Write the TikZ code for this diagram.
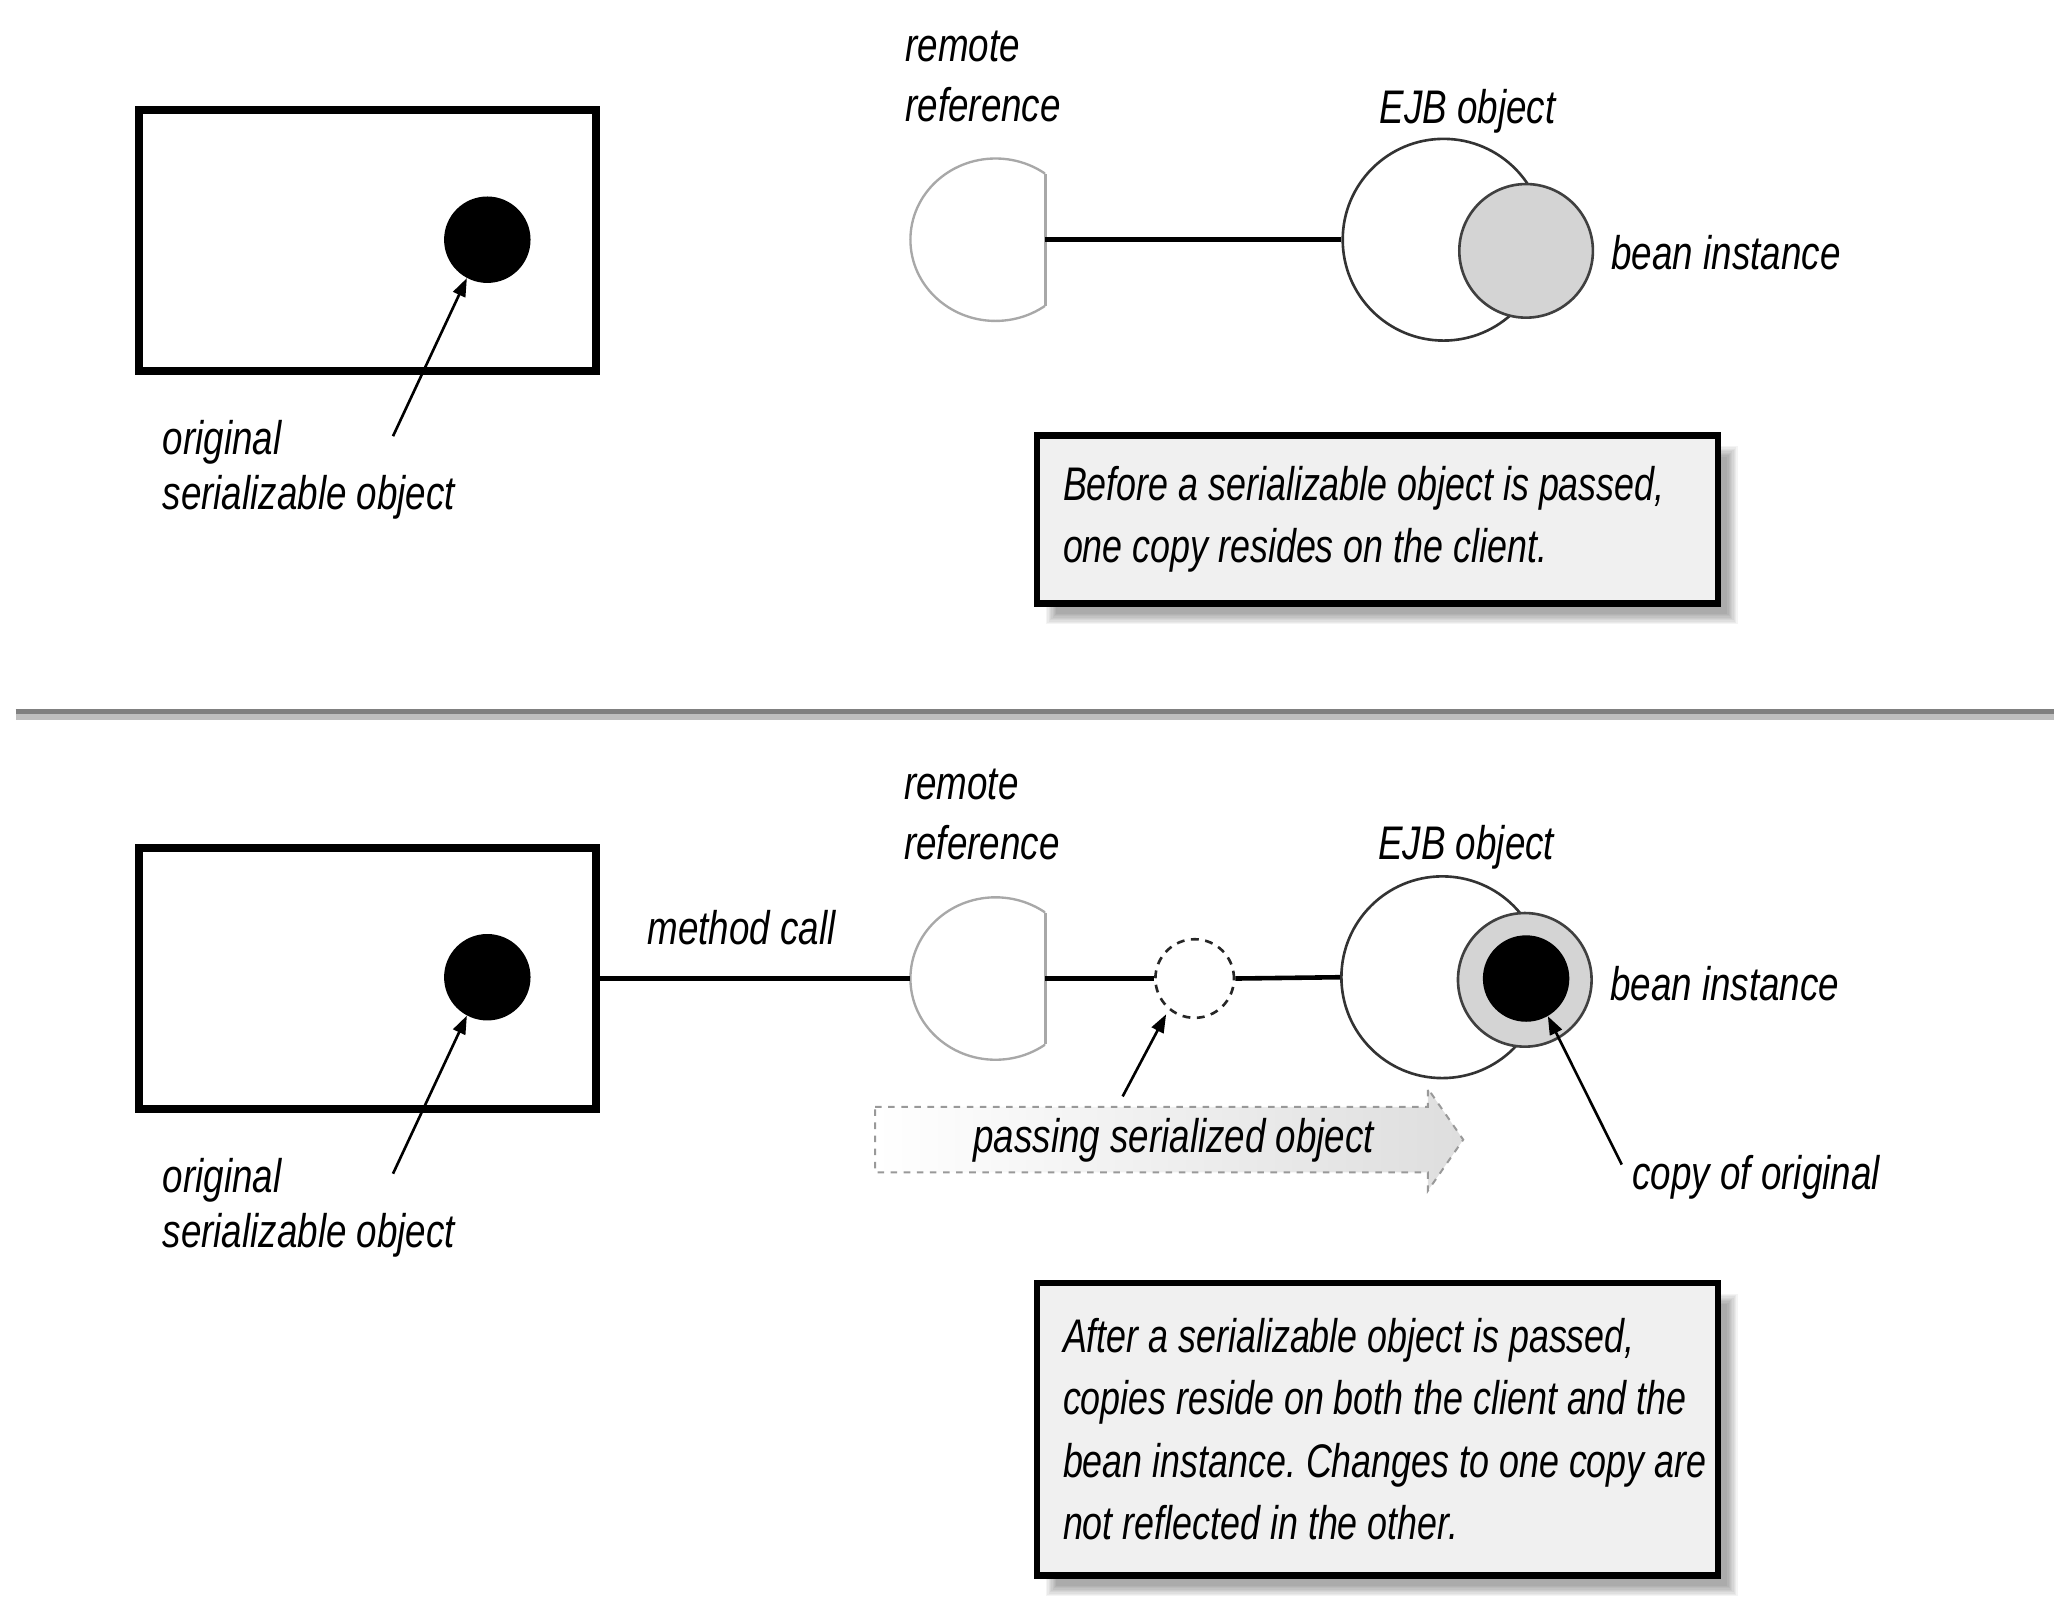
\documentclass[tikz,border=0pt]{standalone}
\usepackage{fontspec}
\setmainfont{Liberation Sans}[FakeStretch=0.78]
\newfontfamily\capfam{Liberation Sans}[FakeStretch=0.76]
\usetikzlibrary{arrows.meta}
\definecolor{capfill}{HTML}{F0F0F0}
\definecolor{refgray}{HTML}{A8A8A8}
\definecolor{beangray}{HTML}{D4D4D4}
\newcommand{\labfont}{\fontsize{36}{46}\selectfont\itshape}
\newcommand{\orfont}{\fontsize{36}{42}\selectfont\itshape}
\newcommand{\capfont}{\capfam\fontsize{36}{47.5}\selectfont\itshape}
\newcommand{\normsp}{\spaceskip=0pt\xspaceskip=0pt\frenchspacing\relax}
\newcommand{\capshadow}[4]{%
  \foreach \s in {0,1,...,8}{%
    \fill[black,opacity=0.045] (#1+7+\s,#2+8+\s) rectangle (#3+15-\s,#4+16-\s);}}
\begin{document}
\begin{tikzpicture}[x=1pt,y=-1pt,
  conn/.style={line width=3.5pt,black},
  ptr/.style={line width=2pt,black,-{Triangle[length=14pt,width=10pt]}},
  clientbox/.style={draw,line width=6pt,minimum width=349pt,minimum height=199pt,inner sep=0pt},
  obj/.style={circle,fill=black,minimum size=66pt,inner sep=0pt},
  ejbc/.style={circle,draw=black!80,line width=2pt,minimum size=154pt,inner sep=0pt},
  beanc/.style={circle,draw=black!75,fill=beangray,line width=2pt,minimum size=102pt,inner sep=0pt},
  dashc/.style={circle,draw=black!85,dash pattern=on 6pt off 5pt,line width=2pt,minimum size=60pt,inner sep=0pt},
  refline/.style={draw=refgray,line width=1.8pt},
  lab/.style={font=\labfont,inner sep=0pt,anchor=base west,align=left},
  orlab/.style={font=\orfont,inner sep=0pt,anchor=base west,align=left},
  caption/.style={draw,line width=5pt,fill=capfill,minimum width=520pt,text width=480pt,
     inner xsep=20pt,inner ysep=0pt,align=left,font=\capfont},
  passbox/.style={draw=black!40,dash pattern=on 5pt off 5pt,line width=1.5pt,left color=white,right color=black!13},
]
\useasboundingbox (0,0) rectangle (1568,1230);

% ================= TOP PANEL =================
\node[clientbox] (cl1) at (280.5,183.5) {};
\node[obj] (dot1) at (372,183) {};
\coordinate (o1t) at (300,333);
\draw[ptr] (o1t) -- (dot1.-118);
\node[orlab] (orl1) at (124,389) {original\\serializable object};

% remote reference
\begin{scope}
  \clip (680,100) rectangle (798,270);
  \draw[refline] (760,183) ellipse [x radius=65pt,y radius=62pt];
\end{scope}
\coordinate (ref1w) at (695,183);
\coordinate (ref1e) at (798,183);
\coordinate (ref1t) at (798,132.7);
\coordinate (ref1b) at (798,233.3);
\draw[refline] (ref1t) -- (ref1b);
\node[lab] (rr1) at (691,93) {remote\\reference};

\node[ejbc] (ejb1) at (1102,183) {};
\draw[conn] (ref1e) -- (ejb1.west);
\node[beanc] (bean1) at (1165,191.5) {};
\node[lab] (ejbl1) at (1053,94) {EJB object};
\node[lab] (bil1) at (1230,206) {bean instance};

\capshadow{791.5}{332.5}{1311.5}{460.5}
\node[caption,minimum height=128pt] (cap1) at (1051.5,396.5)
  {\normsp\mbox{Before a serializable object is passed,}\\\mbox{one copy resides on the client.}};

% ================= SEPARATOR =================
\coordinate (sepL) at (12,543);
\coordinate (sepR) at (1568,543);
\coordinate (sepL2) at (12,547.3);
\coordinate (sepR2) at (1568,547.3);
\draw[line width=4pt,color=black!50] (sepL) -- (sepR);
\draw[line width=4.3pt,color=black!25] (sepL2) -- (sepR2);

% ================= BOTTOM PANEL =================
\node[clientbox] (cl2) at (280.5,747) {};
\node[obj] (dot2) at (372,746) {};
\coordinate (o2t) at (300,896);
\draw[ptr] (o2t) -- (dot2.-118);
\node[orlab] (orl2) at (124,952) {original\\serializable object};

\begin{scope}
  \clip (680,660) rectangle (798,835);
  \draw[refline] (760,747) ellipse [x radius=65pt,y radius=62pt];
\end{scope}
\coordinate (ref2w) at (695,747);
\coordinate (ref2e) at (798,747);
\coordinate (ref2t) at (798,696.7);
\coordinate (ref2b) at (798,797.3);
\draw[refline] (ref2t) -- (ref2b);
\node[lab] (rr2) at (690,656) {remote\\reference};

\draw[conn] (cl2.east) -- (ref2w);
\node[lab] (mc) at (494,721) {method call};

\node[dashc] (dash) at (912,747) {};
\node[ejbc] (ejb2) at (1101,746) {};
\draw[conn] (ref2e) -- (dash.west);
\draw[conn] (dash.east) -- (ejb2.west);
\node[beanc] (bean2) at (1164,748) {};
\node[obj] (blk) at (1165,747) {};
\node[lab] (ejbl2) at (1052,656) {EJB object};
\node[lab] (bil2) at (1229,764) {bean instance};

% passing serialized object arrow
\coordinate (pa1) at (668,845);
\coordinate (pa2) at (1090,845);
\coordinate (pa3) at (1090,831);
\coordinate (pa4) at (1117,870);
\coordinate (pa5) at (1090,909);
\coordinate (pa6) at (1090,895);
\coordinate (pa7) at (668,895);
\path[passbox] (pa1) -- (pa2) -- (pa3) -- (pa4) -- (pa5) -- (pa6) -- (pa7) -- cycle;
\node[font=\labfont,inner sep=0pt,anchor=base] (pass) at (896,880) {passing serialized object};
\coordinate (pt) at (857,837);
\draw[ptr,shorten >=4pt] (pt) -- (dash.-130);

% copy of original
\node[lab] (coo) at (1246,908) {copy of original};
\coordinate (ct) at (1238,889);
\draw[ptr] (ct) -- (blk.-60);

\capshadow{791.5}{979.5}{1311.5}{1202.5}
\node[caption,minimum height=223pt] (cap2) at (1051.5,1091)
  {\normsp\mbox{After a serializable object is passed,}\\\mbox{copies reside on both the client and the}\\\mbox{bean instance. Changes to one copy are}\\\mbox{not reflected in the other.}};
\end{tikzpicture}
\end{document}
